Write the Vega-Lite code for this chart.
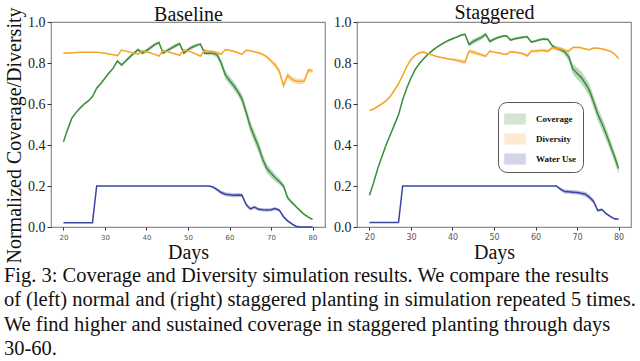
{
"$schema": "https://vega.github.io/schema/vega-lite/v6.json",
"background": "white",
"padding": {"left": 3, "top": 1, "right": 5, "bottom": 2},
"spacing": 6,
"title": {
 "text": ["Fig. 3: Coverage and Diversity simulation results. We compare the results", "of (left) normal and (right) staggered planting in simulation repeated 5 times.", "We find higher and sustained coverage in staggered planting through days", "30-60."],
 "orient": "bottom", "anchor": "start", "font": "Liberation Serif", "fontSize": 20.5, "fontWeight": "normal", "lineHeight": 24.5, "offset": 2, "color": "#111"
},
"datasets": {"sim": [
{"p":"B","s":"Coverage","d":20,"v":0.416,"e":0.005},{"p":"B","s":"Coverage","d":21,"v":0.475,"e":0.005},{"p":"B","s":"Coverage","d":22,"v":0.53,"e":0.005},{"p":"B","s":"Coverage","d":23,"v":0.558,"e":0.005},{"p":"B","s":"Coverage","d":24,"v":0.58,"e":0.005},{"p":"B","s":"Coverage","d":25,"v":0.6,"e":0.005},{"p":"B","s":"Coverage","d":26,"v":0.615,"e":0.005},{"p":"B","s":"Coverage","d":27,"v":0.636,"e":0.005},{"p":"B","s":"Coverage","d":28,"v":0.677,"e":0.005},{"p":"B","s":"Coverage","d":29,"v":0.7,"e":0.005},{"p":"B","s":"Coverage","d":30,"v":0.726,"e":0.005},{"p":"B","s":"Coverage","d":31,"v":0.752,"e":0.005},{"p":"B","s":"Coverage","d":32,"v":0.775,"e":0.006},{"p":"B","s":"Coverage","d":33,"v":0.81,"e":0.006},{"p":"B","s":"Coverage","d":34,"v":0.79,"e":0.008},{"p":"B","s":"Coverage","d":35,"v":0.81,"e":0.008},{"p":"B","s":"Coverage","d":36,"v":0.83,"e":0.008},{"p":"B","s":"Coverage","d":37,"v":0.848,"e":0.008},{"p":"B","s":"Coverage","d":38,"v":0.865,"e":0.008},{"p":"B","s":"Coverage","d":39,"v":0.848,"e":0.008},{"p":"B","s":"Coverage","d":40,"v":0.86,"e":0.01},{"p":"B","s":"Coverage","d":41,"v":0.875,"e":0.01},{"p":"B","s":"Coverage","d":42,"v":0.89,"e":0.008},{"p":"B","s":"Coverage","d":43,"v":0.9,"e":0.006},{"p":"B","s":"Coverage","d":44,"v":0.848,"e":0.006},{"p":"B","s":"Coverage","d":45,"v":0.862,"e":0.008},{"p":"B","s":"Coverage","d":46,"v":0.873,"e":0.01},{"p":"B","s":"Coverage","d":47,"v":0.884,"e":0.01},{"p":"B","s":"Coverage","d":48,"v":0.894,"e":0.008},{"p":"B","s":"Coverage","d":49,"v":0.848,"e":0.006},{"p":"B","s":"Coverage","d":50,"v":0.865,"e":0.01},{"p":"B","s":"Coverage","d":51,"v":0.877,"e":0.01},{"p":"B","s":"Coverage","d":52,"v":0.886,"e":0.008},{"p":"B","s":"Coverage","d":53,"v":0.892,"e":0.006},{"p":"B","s":"Coverage","d":54,"v":0.848,"e":0.008},{"p":"B","s":"Coverage","d":55,"v":0.848,"e":0.01},{"p":"B","s":"Coverage","d":56,"v":0.848,"e":0.012},{"p":"B","s":"Coverage","d":57,"v":0.84,"e":0.014},{"p":"B","s":"Coverage","d":58,"v":0.8,"e":0.018},{"p":"B","s":"Coverage","d":59,"v":0.742,"e":0.02},{"p":"B","s":"Coverage","d":60,"v":0.715,"e":0.02},{"p":"B","s":"Coverage","d":61,"v":0.69,"e":0.02},{"p":"B","s":"Coverage","d":62,"v":0.66,"e":0.02},{"p":"B","s":"Coverage","d":63,"v":0.625,"e":0.022},{"p":"B","s":"Coverage","d":64,"v":0.56,"e":0.025},{"p":"B","s":"Coverage","d":65,"v":0.49,"e":0.028},{"p":"B","s":"Coverage","d":66,"v":0.44,"e":0.028},{"p":"B","s":"Coverage","d":67,"v":0.39,"e":0.028},{"p":"B","s":"Coverage","d":68,"v":0.33,"e":0.025},{"p":"B","s":"Coverage","d":69,"v":0.285,"e":0.022},{"p":"B","s":"Coverage","d":70,"v":0.262,"e":0.02},{"p":"B","s":"Coverage","d":71,"v":0.24,"e":0.018},{"p":"B","s":"Coverage","d":72,"v":0.222,"e":0.015},{"p":"B","s":"Coverage","d":73,"v":0.2,"e":0.012},{"p":"B","s":"Coverage","d":74,"v":0.143,"e":0.01},{"p":"B","s":"Coverage","d":75,"v":0.12,"e":0.008},{"p":"B","s":"Coverage","d":76,"v":0.1,"e":0.006},{"p":"B","s":"Coverage","d":77,"v":0.08,"e":0.005},{"p":"B","s":"Coverage","d":78,"v":0.062,"e":0.004},{"p":"B","s":"Coverage","d":79,"v":0.048,"e":0.004},{"p":"B","s":"Coverage","d":80,"v":0.037,"e":0.003},
{"p":"B","s":"Diversity","d":20,"v":0.848,"e":0.003},{"p":"B","s":"Diversity","d":21,"v":0.849,"e":0.003},{"p":"B","s":"Diversity","d":22,"v":0.85,"e":0.003},{"p":"B","s":"Diversity","d":23,"v":0.851,"e":0.003},{"p":"B","s":"Diversity","d":24,"v":0.852,"e":0.003},{"p":"B","s":"Diversity","d":25,"v":0.853,"e":0.003},{"p":"B","s":"Diversity","d":26,"v":0.853,"e":0.003},{"p":"B","s":"Diversity","d":27,"v":0.853,"e":0.003},{"p":"B","s":"Diversity","d":28,"v":0.852,"e":0.003},{"p":"B","s":"Diversity","d":29,"v":0.85,"e":0.003},{"p":"B","s":"Diversity","d":30,"v":0.847,"e":0.003},{"p":"B","s":"Diversity","d":31,"v":0.844,"e":0.003},{"p":"B","s":"Diversity","d":32,"v":0.84,"e":0.003},{"p":"B","s":"Diversity","d":33,"v":0.836,"e":0.003},{"p":"B","s":"Diversity","d":34,"v":0.863,"e":0.003},{"p":"B","s":"Diversity","d":35,"v":0.858,"e":0.003},{"p":"B","s":"Diversity","d":36,"v":0.853,"e":0.003},{"p":"B","s":"Diversity","d":37,"v":0.848,"e":0.003},{"p":"B","s":"Diversity","d":38,"v":0.843,"e":0.003},{"p":"B","s":"Diversity","d":39,"v":0.86,"e":0.003},{"p":"B","s":"Diversity","d":40,"v":0.855,"e":0.003},{"p":"B","s":"Diversity","d":41,"v":0.849,"e":0.003},{"p":"B","s":"Diversity","d":42,"v":0.842,"e":0.003},{"p":"B","s":"Diversity","d":43,"v":0.834,"e":0.003},{"p":"B","s":"Diversity","d":44,"v":0.861,"e":0.003},{"p":"B","s":"Diversity","d":45,"v":0.856,"e":0.003},{"p":"B","s":"Diversity","d":46,"v":0.85,"e":0.003},{"p":"B","s":"Diversity","d":47,"v":0.844,"e":0.003},{"p":"B","s":"Diversity","d":48,"v":0.837,"e":0.003},{"p":"B","s":"Diversity","d":49,"v":0.865,"e":0.003},{"p":"B","s":"Diversity","d":50,"v":0.859,"e":0.003},{"p":"B","s":"Diversity","d":51,"v":0.852,"e":0.003},{"p":"B","s":"Diversity","d":52,"v":0.843,"e":0.004},{"p":"B","s":"Diversity","d":53,"v":0.833,"e":0.004},{"p":"B","s":"Diversity","d":54,"v":0.862,"e":0.005},{"p":"B","s":"Diversity","d":55,"v":0.858,"e":0.006},{"p":"B","s":"Diversity","d":56,"v":0.855,"e":0.006},{"p":"B","s":"Diversity","d":57,"v":0.85,"e":0.006},{"p":"B","s":"Diversity","d":58,"v":0.843,"e":0.006},{"p":"B","s":"Diversity","d":59,"v":0.866,"e":0.004},{"p":"B","s":"Diversity","d":60,"v":0.862,"e":0.004},{"p":"B","s":"Diversity","d":61,"v":0.857,"e":0.004},{"p":"B","s":"Diversity","d":62,"v":0.85,"e":0.004},{"p":"B","s":"Diversity","d":63,"v":0.842,"e":0.004},{"p":"B","s":"Diversity","d":64,"v":0.862,"e":0.004},{"p":"B","s":"Diversity","d":65,"v":0.86,"e":0.004},{"p":"B","s":"Diversity","d":66,"v":0.855,"e":0.004},{"p":"B","s":"Diversity","d":67,"v":0.85,"e":0.005},{"p":"B","s":"Diversity","d":68,"v":0.842,"e":0.006},{"p":"B","s":"Diversity","d":69,"v":0.83,"e":0.008},{"p":"B","s":"Diversity","d":70,"v":0.81,"e":0.01},{"p":"B","s":"Diversity","d":71,"v":0.79,"e":0.012},{"p":"B","s":"Diversity","d":72,"v":0.76,"e":0.015},{"p":"B","s":"Diversity","d":73,"v":0.69,"e":0.015},{"p":"B","s":"Diversity","d":74,"v":0.74,"e":0.015},{"p":"B","s":"Diversity","d":75,"v":0.72,"e":0.015},{"p":"B","s":"Diversity","d":76,"v":0.712,"e":0.015},{"p":"B","s":"Diversity","d":77,"v":0.71,"e":0.015},{"p":"B","s":"Diversity","d":78,"v":0.712,"e":0.012},{"p":"B","s":"Diversity","d":79,"v":0.765,"e":0.012},{"p":"B","s":"Diversity","d":80,"v":0.762,"e":0.01},
{"p":"B","s":"Water Use","d":20,"v":0.021,"e":0},{"p":"B","s":"Water Use","d":21,"v":0.021,"e":0},{"p":"B","s":"Water Use","d":22,"v":0.021,"e":0},{"p":"B","s":"Water Use","d":23,"v":0.021,"e":0},{"p":"B","s":"Water Use","d":24,"v":0.021,"e":0},{"p":"B","s":"Water Use","d":25,"v":0.021,"e":0},{"p":"B","s":"Water Use","d":26,"v":0.021,"e":0},{"p":"B","s":"Water Use","d":27,"v":0.021,"e":0},{"p":"B","s":"Water Use","d":28,"v":0.2,"e":0},{"p":"B","s":"Water Use","d":29,"v":0.2,"e":0},{"p":"B","s":"Water Use","d":30,"v":0.2,"e":0},{"p":"B","s":"Water Use","d":31,"v":0.2,"e":0},{"p":"B","s":"Water Use","d":32,"v":0.2,"e":0},{"p":"B","s":"Water Use","d":33,"v":0.2,"e":0},{"p":"B","s":"Water Use","d":34,"v":0.2,"e":0},{"p":"B","s":"Water Use","d":35,"v":0.2,"e":0},{"p":"B","s":"Water Use","d":36,"v":0.2,"e":0},{"p":"B","s":"Water Use","d":37,"v":0.2,"e":0},{"p":"B","s":"Water Use","d":38,"v":0.2,"e":0},{"p":"B","s":"Water Use","d":39,"v":0.2,"e":0},{"p":"B","s":"Water Use","d":40,"v":0.2,"e":0},{"p":"B","s":"Water Use","d":41,"v":0.2,"e":0},{"p":"B","s":"Water Use","d":42,"v":0.2,"e":0},{"p":"B","s":"Water Use","d":43,"v":0.2,"e":0},{"p":"B","s":"Water Use","d":44,"v":0.2,"e":0},{"p":"B","s":"Water Use","d":45,"v":0.2,"e":0},{"p":"B","s":"Water Use","d":46,"v":0.2,"e":0},{"p":"B","s":"Water Use","d":47,"v":0.2,"e":0},{"p":"B","s":"Water Use","d":48,"v":0.2,"e":0},{"p":"B","s":"Water Use","d":49,"v":0.2,"e":0},{"p":"B","s":"Water Use","d":50,"v":0.2,"e":0},{"p":"B","s":"Water Use","d":51,"v":0.2,"e":0},{"p":"B","s":"Water Use","d":52,"v":0.2,"e":0},{"p":"B","s":"Water Use","d":53,"v":0.2,"e":0},{"p":"B","s":"Water Use","d":54,"v":0.2,"e":0},{"p":"B","s":"Water Use","d":55,"v":0.2,"e":0.002},{"p":"B","s":"Water Use","d":56,"v":0.195,"e":0.004},{"p":"B","s":"Water Use","d":57,"v":0.182,"e":0.008},{"p":"B","s":"Water Use","d":58,"v":0.168,"e":0.01},{"p":"B","s":"Water Use","d":59,"v":0.16,"e":0.01},{"p":"B","s":"Water Use","d":60,"v":0.157,"e":0.01},{"p":"B","s":"Water Use","d":61,"v":0.155,"e":0.01},{"p":"B","s":"Water Use","d":62,"v":0.156,"e":0.01},{"p":"B","s":"Water Use","d":63,"v":0.155,"e":0.01},{"p":"B","s":"Water Use","d":64,"v":0.11,"e":0.01},{"p":"B","s":"Water Use","d":65,"v":0.088,"e":0.008},{"p":"B","s":"Water Use","d":66,"v":0.097,"e":0.008},{"p":"B","s":"Water Use","d":67,"v":0.086,"e":0.008},{"p":"B","s":"Water Use","d":68,"v":0.084,"e":0.008},{"p":"B","s":"Water Use","d":69,"v":0.083,"e":0.008},{"p":"B","s":"Water Use","d":70,"v":0.084,"e":0.008},{"p":"B","s":"Water Use","d":71,"v":0.09,"e":0.008},{"p":"B","s":"Water Use","d":72,"v":0.082,"e":0.006},{"p":"B","s":"Water Use","d":73,"v":0.05,"e":0.006},{"p":"B","s":"Water Use","d":74,"v":0.03,"e":0.005},{"p":"B","s":"Water Use","d":75,"v":0.015,"e":0.004},{"p":"B","s":"Water Use","d":76,"v":0.004,"e":0.003},{"p":"B","s":"Water Use","d":77,"v":0,"e":0},{"p":"B","s":"Water Use","d":78,"v":0,"e":0},{"p":"B","s":"Water Use","d":79,"v":0,"e":0},{"p":"B","s":"Water Use","d":80,"v":0,"e":0},
{"p":"S","s":"Coverage","d":20,"v":0.155,"e":0.005},{"p":"S","s":"Coverage","d":21,"v":0.216,"e":0.005},{"p":"S","s":"Coverage","d":22,"v":0.286,"e":0.005},{"p":"S","s":"Coverage","d":23,"v":0.343,"e":0.005},{"p":"S","s":"Coverage","d":24,"v":0.4,"e":0.005},{"p":"S","s":"Coverage","d":25,"v":0.449,"e":0.005},{"p":"S","s":"Coverage","d":26,"v":0.498,"e":0.005},{"p":"S","s":"Coverage","d":27,"v":0.547,"e":0.005},{"p":"S","s":"Coverage","d":28,"v":0.621,"e":0.005},{"p":"S","s":"Coverage","d":29,"v":0.678,"e":0.005},{"p":"S","s":"Coverage","d":30,"v":0.727,"e":0.005},{"p":"S","s":"Coverage","d":31,"v":0.768,"e":0.005},{"p":"S","s":"Coverage","d":32,"v":0.797,"e":0.005},{"p":"S","s":"Coverage","d":33,"v":0.82,"e":0.005},{"p":"S","s":"Coverage","d":34,"v":0.84,"e":0.005},{"p":"S","s":"Coverage","d":35,"v":0.858,"e":0.005},{"p":"S","s":"Coverage","d":36,"v":0.874,"e":0.005},{"p":"S","s":"Coverage","d":37,"v":0.887,"e":0.005},{"p":"S","s":"Coverage","d":38,"v":0.899,"e":0.005},{"p":"S","s":"Coverage","d":39,"v":0.91,"e":0.005},{"p":"S","s":"Coverage","d":40,"v":0.918,"e":0.005},{"p":"S","s":"Coverage","d":41,"v":0.926,"e":0.005},{"p":"S","s":"Coverage","d":42,"v":0.935,"e":0.005},{"p":"S","s":"Coverage","d":43,"v":0.94,"e":0.005},{"p":"S","s":"Coverage","d":44,"v":0.89,"e":0.01},{"p":"S","s":"Coverage","d":45,"v":0.905,"e":0.012},{"p":"S","s":"Coverage","d":46,"v":0.915,"e":0.012},{"p":"S","s":"Coverage","d":47,"v":0.925,"e":0.012},{"p":"S","s":"Coverage","d":48,"v":0.94,"e":0.01},{"p":"S","s":"Coverage","d":49,"v":0.905,"e":0.008},{"p":"S","s":"Coverage","d":50,"v":0.916,"e":0.006},{"p":"S","s":"Coverage","d":51,"v":0.924,"e":0.006},{"p":"S","s":"Coverage","d":52,"v":0.93,"e":0.006},{"p":"S","s":"Coverage","d":53,"v":0.933,"e":0.006},{"p":"S","s":"Coverage","d":54,"v":0.912,"e":0.006},{"p":"S","s":"Coverage","d":55,"v":0.918,"e":0.006},{"p":"S","s":"Coverage","d":56,"v":0.922,"e":0.006},{"p":"S","s":"Coverage","d":57,"v":0.926,"e":0.006},{"p":"S","s":"Coverage","d":58,"v":0.928,"e":0.006},{"p":"S","s":"Coverage","d":59,"v":0.902,"e":0.006},{"p":"S","s":"Coverage","d":60,"v":0.907,"e":0.006},{"p":"S","s":"Coverage","d":61,"v":0.913,"e":0.006},{"p":"S","s":"Coverage","d":62,"v":0.917,"e":0.006},{"p":"S","s":"Coverage","d":63,"v":0.915,"e":0.006},{"p":"S","s":"Coverage","d":64,"v":0.885,"e":0.008},{"p":"S","s":"Coverage","d":65,"v":0.872,"e":0.01},{"p":"S","s":"Coverage","d":66,"v":0.866,"e":0.012},{"p":"S","s":"Coverage","d":67,"v":0.855,"e":0.015},{"p":"S","s":"Coverage","d":68,"v":0.83,"e":0.02},{"p":"S","s":"Coverage","d":69,"v":0.77,"e":0.025},{"p":"S","s":"Coverage","d":70,"v":0.75,"e":0.028},{"p":"S","s":"Coverage","d":71,"v":0.73,"e":0.03},{"p":"S","s":"Coverage","d":72,"v":0.7,"e":0.03},{"p":"S","s":"Coverage","d":73,"v":0.665,"e":0.03},{"p":"S","s":"Coverage","d":74,"v":0.61,"e":0.03},{"p":"S","s":"Coverage","d":75,"v":0.55,"e":0.03},{"p":"S","s":"Coverage","d":76,"v":0.505,"e":0.03},{"p":"S","s":"Coverage","d":77,"v":0.455,"e":0.03},{"p":"S","s":"Coverage","d":78,"v":0.4,"e":0.028},{"p":"S","s":"Coverage","d":79,"v":0.345,"e":0.025},{"p":"S","s":"Coverage","d":80,"v":0.285,"e":0.025},
{"p":"S","s":"Diversity","d":20,"v":0.569,"e":0.006},{"p":"S","s":"Diversity","d":21,"v":0.575,"e":0.006},{"p":"S","s":"Diversity","d":22,"v":0.588,"e":0.006},{"p":"S","s":"Diversity","d":23,"v":0.601,"e":0.006},{"p":"S","s":"Diversity","d":24,"v":0.616,"e":0.006},{"p":"S","s":"Diversity","d":25,"v":0.637,"e":0.006},{"p":"S","s":"Diversity","d":26,"v":0.667,"e":0.006},{"p":"S","s":"Diversity","d":27,"v":0.699,"e":0.006},{"p":"S","s":"Diversity","d":28,"v":0.739,"e":0.006},{"p":"S","s":"Diversity","d":29,"v":0.784,"e":0.006},{"p":"S","s":"Diversity","d":30,"v":0.817,"e":0.006},{"p":"S","s":"Diversity","d":31,"v":0.837,"e":0.005},{"p":"S","s":"Diversity","d":32,"v":0.85,"e":0.004},{"p":"S","s":"Diversity","d":33,"v":0.853,"e":0.004},{"p":"S","s":"Diversity","d":34,"v":0.846,"e":0.004},{"p":"S","s":"Diversity","d":35,"v":0.84,"e":0.004},{"p":"S","s":"Diversity","d":36,"v":0.833,"e":0.004},{"p":"S","s":"Diversity","d":37,"v":0.828,"e":0.004},{"p":"S","s":"Diversity","d":38,"v":0.824,"e":0.004},{"p":"S","s":"Diversity","d":39,"v":0.82,"e":0.005},{"p":"S","s":"Diversity","d":40,"v":0.817,"e":0.006},{"p":"S","s":"Diversity","d":41,"v":0.814,"e":0.008},{"p":"S","s":"Diversity","d":42,"v":0.809,"e":0.01},{"p":"S","s":"Diversity","d":43,"v":0.804,"e":0.012},{"p":"S","s":"Diversity","d":44,"v":0.858,"e":0.012},{"p":"S","s":"Diversity","d":45,"v":0.853,"e":0.012},{"p":"S","s":"Diversity","d":46,"v":0.846,"e":0.01},{"p":"S","s":"Diversity","d":47,"v":0.84,"e":0.008},{"p":"S","s":"Diversity","d":48,"v":0.833,"e":0.006},{"p":"S","s":"Diversity","d":49,"v":0.858,"e":0.005},{"p":"S","s":"Diversity","d":50,"v":0.853,"e":0.005},{"p":"S","s":"Diversity","d":51,"v":0.85,"e":0.005},{"p":"S","s":"Diversity","d":52,"v":0.845,"e":0.005},{"p":"S","s":"Diversity","d":53,"v":0.842,"e":0.005},{"p":"S","s":"Diversity","d":54,"v":0.855,"e":0.005},{"p":"S","s":"Diversity","d":55,"v":0.853,"e":0.005},{"p":"S","s":"Diversity","d":56,"v":0.85,"e":0.005},{"p":"S","s":"Diversity","d":57,"v":0.845,"e":0.006},{"p":"S","s":"Diversity","d":58,"v":0.835,"e":0.008},{"p":"S","s":"Diversity","d":59,"v":0.858,"e":0.008},{"p":"S","s":"Diversity","d":60,"v":0.858,"e":0.008},{"p":"S","s":"Diversity","d":61,"v":0.861,"e":0.008},{"p":"S","s":"Diversity","d":62,"v":0.861,"e":0.008},{"p":"S","s":"Diversity","d":63,"v":0.858,"e":0.008},{"p":"S","s":"Diversity","d":64,"v":0.874,"e":0.008},{"p":"S","s":"Diversity","d":65,"v":0.872,"e":0.008},{"p":"S","s":"Diversity","d":66,"v":0.869,"e":0.006},{"p":"S","s":"Diversity","d":67,"v":0.862,"e":0.005},{"p":"S","s":"Diversity","d":68,"v":0.858,"e":0.004},{"p":"S","s":"Diversity","d":69,"v":0.876,"e":0.004},{"p":"S","s":"Diversity","d":70,"v":0.877,"e":0.004},{"p":"S","s":"Diversity","d":71,"v":0.874,"e":0.004},{"p":"S","s":"Diversity","d":72,"v":0.868,"e":0.004},{"p":"S","s":"Diversity","d":73,"v":0.865,"e":0.004},{"p":"S","s":"Diversity","d":74,"v":0.873,"e":0.004},{"p":"S","s":"Diversity","d":75,"v":0.872,"e":0.004},{"p":"S","s":"Diversity","d":76,"v":0.869,"e":0.004},{"p":"S","s":"Diversity","d":77,"v":0.863,"e":0.004},{"p":"S","s":"Diversity","d":78,"v":0.858,"e":0.004},{"p":"S","s":"Diversity","d":79,"v":0.845,"e":0.004},{"p":"S","s":"Diversity","d":80,"v":0.822,"e":0.004},
{"p":"S","s":"Water Use","d":20,"v":0.022,"e":0},{"p":"S","s":"Water Use","d":21,"v":0.022,"e":0},{"p":"S","s":"Water Use","d":22,"v":0.022,"e":0},{"p":"S","s":"Water Use","d":23,"v":0.022,"e":0},{"p":"S","s":"Water Use","d":24,"v":0.022,"e":0},{"p":"S","s":"Water Use","d":25,"v":0.022,"e":0},{"p":"S","s":"Water Use","d":26,"v":0.022,"e":0},{"p":"S","s":"Water Use","d":27,"v":0.022,"e":0},{"p":"S","s":"Water Use","d":28,"v":0.2,"e":0},{"p":"S","s":"Water Use","d":29,"v":0.2,"e":0},{"p":"S","s":"Water Use","d":30,"v":0.2,"e":0},{"p":"S","s":"Water Use","d":31,"v":0.2,"e":0},{"p":"S","s":"Water Use","d":32,"v":0.2,"e":0},{"p":"S","s":"Water Use","d":33,"v":0.2,"e":0},{"p":"S","s":"Water Use","d":34,"v":0.2,"e":0},{"p":"S","s":"Water Use","d":35,"v":0.2,"e":0},{"p":"S","s":"Water Use","d":36,"v":0.2,"e":0},{"p":"S","s":"Water Use","d":37,"v":0.2,"e":0},{"p":"S","s":"Water Use","d":38,"v":0.2,"e":0},{"p":"S","s":"Water Use","d":39,"v":0.2,"e":0},{"p":"S","s":"Water Use","d":40,"v":0.2,"e":0},{"p":"S","s":"Water Use","d":41,"v":0.2,"e":0},{"p":"S","s":"Water Use","d":42,"v":0.2,"e":0},{"p":"S","s":"Water Use","d":43,"v":0.2,"e":0},{"p":"S","s":"Water Use","d":44,"v":0.2,"e":0},{"p":"S","s":"Water Use","d":45,"v":0.2,"e":0},{"p":"S","s":"Water Use","d":46,"v":0.2,"e":0},{"p":"S","s":"Water Use","d":47,"v":0.2,"e":0},{"p":"S","s":"Water Use","d":48,"v":0.2,"e":0},{"p":"S","s":"Water Use","d":49,"v":0.2,"e":0},{"p":"S","s":"Water Use","d":50,"v":0.2,"e":0},{"p":"S","s":"Water Use","d":51,"v":0.2,"e":0},{"p":"S","s":"Water Use","d":52,"v":0.2,"e":0},{"p":"S","s":"Water Use","d":53,"v":0.2,"e":0},{"p":"S","s":"Water Use","d":54,"v":0.2,"e":0},{"p":"S","s":"Water Use","d":55,"v":0.2,"e":0},{"p":"S","s":"Water Use","d":56,"v":0.2,"e":0},{"p":"S","s":"Water Use","d":57,"v":0.2,"e":0},{"p":"S","s":"Water Use","d":58,"v":0.2,"e":0},{"p":"S","s":"Water Use","d":59,"v":0.2,"e":0},{"p":"S","s":"Water Use","d":60,"v":0.2,"e":0},{"p":"S","s":"Water Use","d":61,"v":0.2,"e":0},{"p":"S","s":"Water Use","d":62,"v":0.2,"e":0},{"p":"S","s":"Water Use","d":63,"v":0.2,"e":0},{"p":"S","s":"Water Use","d":64,"v":0.2,"e":0.001},{"p":"S","s":"Water Use","d":65,"v":0.2,"e":0.003},{"p":"S","s":"Water Use","d":66,"v":0.185,"e":0.008},{"p":"S","s":"Water Use","d":67,"v":0.173,"e":0.01},{"p":"S","s":"Water Use","d":68,"v":0.172,"e":0.01},{"p":"S","s":"Water Use","d":69,"v":0.17,"e":0.01},{"p":"S","s":"Water Use","d":70,"v":0.168,"e":0.01},{"p":"S","s":"Water Use","d":71,"v":0.165,"e":0.01},{"p":"S","s":"Water Use","d":72,"v":0.16,"e":0.012},{"p":"S","s":"Water Use","d":73,"v":0.145,"e":0.012},{"p":"S","s":"Water Use","d":74,"v":0.125,"e":0.01},{"p":"S","s":"Water Use","d":75,"v":0.08,"e":0.006},{"p":"S","s":"Water Use","d":76,"v":0.085,"e":0.006},{"p":"S","s":"Water Use","d":77,"v":0.065,"e":0.005},{"p":"S","s":"Water Use","d":78,"v":0.052,"e":0.004},{"p":"S","s":"Water Use","d":79,"v":0.04,"e":0.003},{"p":"S","s":"Water Use","d":80,"v":0.038,"e":0.003}
]},
"resolve": {"scale": {"color": "independent"}, "legend": {"color": "independent"}},
"hconcat": [
 {
  "width": 274, "height": 205,
  "data": {"name": "sim"},
  "transform": [{"filter": "datum.p === 'B'"}],
  "encoding": {
   "y": {"field": "v", "type": "quantitative", "scale": {"domain": [0, 1], "nice": false}, "axis": {"title": "Normalized Coverage/Diversity", "values": [0, 0.2, 0.4, 0.6, 0.8, 1.0], "format": ".1f", "titleY": 113}},
   "color": {"field": "s", "type": "nominal", "scale": {"domain": ["Coverage", "Diversity", "Water Use"], "range": ["#3c8d3c", "#f5a62a", "#3a45a2"]}, "legend": null}
  },
  "layer": [
   {"mark": {"type": "errorband", "opacity": 0.35}, "encoding": {
     "x": {"field": "d", "type": "quantitative", "scale": {"domain": [17, 83], "nice": false, "zero": false}, "axis": {"orient": "bottom", "title": "Days", "values": [20, 30, 40, 50, 60, 70, 80], "labelFontSize": 7, "titlePadding": 2}},
     "yError": {"field": "e"}}},
   {"mark": {"type": "line", "strokeWidth": 1.5}, "encoding": {
     "x": {"field": "d", "type": "quantitative", "scale": {"domain": [17, 83], "nice": false, "zero": false}, "axis": {"orient": "top", "title": "Baseline", "labels": false, "ticks": false, "domain": false, "titlePadding": 1.5, "titleBaseline": "alphabetic", "titleFontSize": 20}}}}
  ]
 },
 {
  "width": 274, "height": 205,
  "data": {"name": "sim"},
  "transform": [{"filter": "datum.p === 'S'"}],
  "encoding": {
   "y": {"field": "v", "type": "quantitative", "scale": {"domain": [0, 1], "nice": false}, "axis": {"title": null, "values": [0, 0.2, 0.4, 0.6, 0.8, 1.0], "format": ".1f"}}
  },
  "layer": [
   {"mark": {"type": "errorband", "opacity": 0.35}, "encoding": {
     "x": {"field": "d", "type": "quantitative", "scale": {"domain": [17, 83], "nice": false, "zero": false}, "axis": {"orient": "bottom", "title": "Days", "values": [20, 30, 40, 50, 60, 70, 80], "labelFontSize": 8}},
     "yError": {"field": "e"},
     "color": {"field": "s", "type": "nominal", "scale": {"domain": ["Coverage", "Diversity", "Water Use"], "range": ["#3c8d3c", "#f5a62a", "#3a45a2"]},
      "legend": {"orient": "none", "legendX": 141, "legendY": 80, "title": null, "symbolType": "M-1,-0.5H1V0.5H-1Z", "symbolSize": 450, "symbolOpacity": 0.22, "symbolStrokeWidth": 0.5, "labelFont": "Liberation Serif", "labelFontWeight": "bold", "labelFontSize": 9, "labelColor": "#111", "strokeColor": "#555", "cornerRadius": 9, "padding": 6, "rowPadding": 2, "labelOffset": 10, "fillColor": "white"}}}},
   {"mark": {"type": "line", "strokeWidth": 1.5}, "encoding": {
     "x": {"field": "d", "type": "quantitative", "scale": {"domain": [17, 83], "nice": false, "zero": false}, "axis": {"orient": "top", "title": "Staggered", "labels": false, "ticks": false, "domain": false, "titlePadding": 4, "titleBaseline": "alphabetic", "titleFontSize": 20}},
     "color": {"field": "s", "type": "nominal", "scale": {"domain": ["Coverage", "Diversity", "Water Use"], "range": ["#3c8d3c", "#f5a62a", "#3a45a2"]}, "legend": null}}}
  ]
 }
],
"config": {
 "view": {"stroke": "#8c8c8c", "strokeWidth": 1.2},
 "title": {"font": "Liberation Serif", "fontWeight": "normal"},
 "axis": {"grid": false, "domain": false, "tickColor": "#333", "labelColor": "#222", "titleColor": "#111", "titleFont": "Liberation Serif", "titleFontWeight": "normal", "titleFontSize": 20},
 "axisY": {"labelFont": "Liberation Serif", "labelFontSize": 14, "tickSize": 4, "labelPadding": 2, "titlePadding": 3},
 "axisX": {"labelFont": "DejaVu Sans", "labelColor": "#555", "tickSize": 3, "labelPadding": 3, "titlePadding": 1}
}
}
